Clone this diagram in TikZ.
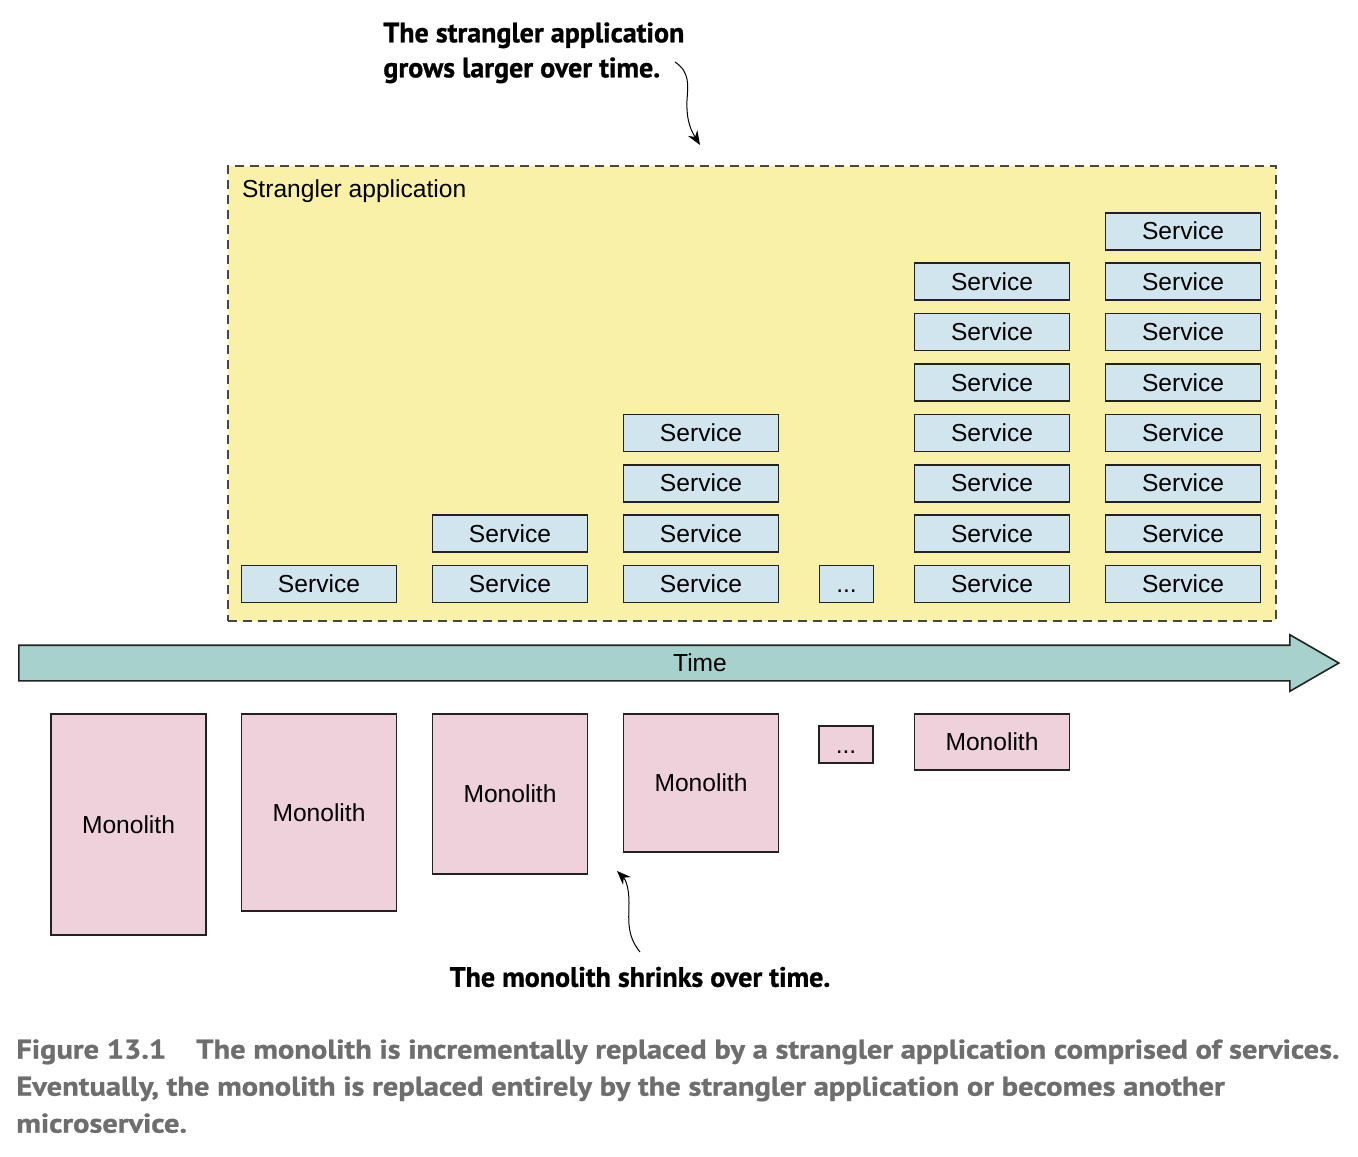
\documentclass[tikz,border=0pt]{standalone}
\usepackage{fontspec}
\setmainfont{Liberation Sans}
\newfontfamily\annotfont{PT Sans}[FakeBold=1]
\newfontfamily\figcapfont{PT Sans}[FakeStretch=1.13, FakeBold=1]
\usetikzlibrary{arrows.meta, positioning, shapes.arrows}

\definecolor{appyellow}{RGB}{250,241,168}
\definecolor{svcblue}{RGB}{208,229,238}
\definecolor{timeteal}{RGB}{167,209,205}
\definecolor{monopink}{RGB}{238,209,218}
\definecolor{boxline}{RGB}{34,34,34}
\definecolor{dashgray}{RGB}{70,70,70}
\definecolor{capgray}{RGB}{110,110,110}

\begin{document}
\begin{tikzpicture} [x = 0.5pt, y = -0.5pt, node distance = 25.2pt and 95.5pt, on grid,
  service/.style = {draw = boxline, line width = 0.8pt, fill = svcblue, minimum width = 77.5pt,
    minimum height = 18.5pt, inner sep = 0pt, font = \fontsize{12.3}{14}\selectfont},
  monolith/.style = {draw = boxline, line width = 0.8pt, fill = monopink, minimum width = 77.5pt,
    inner sep = 0pt, anchor = north, font = \fontsize{12.3}{14}\selectfont},
  dotsbox/.style = {minimum width = 27pt, minimum height = 18.5pt, text height = 8.8pt, text depth = 0pt},
  note/.style = {font = \annotfont\bfseries\fontsize{14}{17.5}\selectfont, align = left, inner sep = 0pt},
  curly/.style = {-{Stealth[length = 7pt, width = 5.5pt]}, line width = 0.5pt}]

\useasboundingbox (0,0) rectangle (1358,1156);

% strangler application
\node (app) [draw = dashgray, dash pattern = on 4.5pt off 3pt, line width = 0.75pt, fill = appyellow,
  minimum width = 524pt, minimum height = 227.5pt, anchor = north west] at (227,165) {};
\node (applabel) [anchor = west, font = \fontsize{12.3}{14}\selectfont] at (235,191) {Strangler application};

% services, bottom row first
\node (s1a) [service] at (319,584) {Service};

\node (s2a) [service, right = of s1a] {Service};
\node (s2b) [service, above = of s2a] {Service};

\node (s3a) [service, right = of s2a] {Service};
\node (s3b) [service, above = of s3a] {Service};
\node (s3c) [service, above = of s3b] {Service};
\node (s3d) [service, above = of s3c] {Service};

\node (sdots) [service, dotsbox, right = 72.75pt of s3a] {...};

\node (s5a) [service, right = 72.75pt of sdots] {Service};
\node (s5b) [service, above = of s5a] {Service};
\node (s5c) [service, above = of s5b] {Service};
\node (s5d) [service, above = of s5c] {Service};
\node (s5e) [service, above = of s5d] {Service};
\node (s5f) [service, above = of s5e] {Service};
\node (s5g) [service, above = of s5f] {Service};

\node (s6a) [service, right = of s5a] {Service};
\node (s6b) [service, above = of s6a] {Service};
\node (s6c) [service, above = of s6b] {Service};
\node (s6d) [service, above = of s6c] {Service};
\node (s6e) [service, above = of s6d] {Service};
\node (s6f) [service, above = of s6e] {Service};
\node (s6g) [service, above = of s6f] {Service};
\node (s6h) [service, above = of s6g] {Service};

% time
\node (time) [single arrow, draw = boxline, line width = 0.8pt, fill = timeteal,
  single arrow head extend = 5.25pt, single arrow tip angle = 60, minimum height = 660pt,
  inner xsep = 0pt, inner ysep = 8.5pt, text height = 0pt, text depth = 0pt, anchor = tail] at (18,663) {};
\node (timelabel) [font = \fontsize{12.3}{14}\selectfont] at (700,663) {Time};

% monoliths
\node (m1) [monolith, minimum height = 110.5pt] at (128.5,713) {Monolith};
\node (m2) [monolith, minimum height = 98.5pt] at (319,713) {Monolith};
\node (m3) [monolith, minimum height = 80pt] at (510,713) {Monolith};
\node (m4) [monolith, minimum height = 69pt] at (701,713) {Monolith};
\node (mdots) [monolith, dotsbox] at (846,725) {...};
\node (m5) [monolith, minimum height = 28pt] at (992,713) {Monolith};

% notes
\node (topnote) [note, anchor = north west] at (383,22) {The strangler application\\grows larger over time.};
\coordinate (topfrom) at (675,62);
\coordinate (topto) at (700,145);
\draw [curly] (topfrom) .. controls (690,72) and (688,85) .. (687,100)
  .. controls (686,122) and (692,132) .. (topto);

\node (botnote) [note] at (640,977) {The monolith shrinks over time.};
\coordinate (botfrom) at (640,952);
\coordinate (botto) at (617,871);
\draw [curly] (botfrom) .. controls (626,935) and (629,918) .. (629,903)
  .. controls (629,886) and (625,879) .. (botto);

% caption
\node (figcap) [anchor = north west, align = left, text = capgray, inner sep = 0pt,
  font = \figcapfont\bfseries\fontsize{13.5}{18.5}\selectfont] at (16,1039)
  {Figure 13.1\hspace{15pt}The monolith is incrementally replaced by a strangler application comprised of services.\\
   Eventually, the monolith is replaced entirely by the strangler application or becomes another\\
   microservice.};

\end{tikzpicture}
\end{document}
